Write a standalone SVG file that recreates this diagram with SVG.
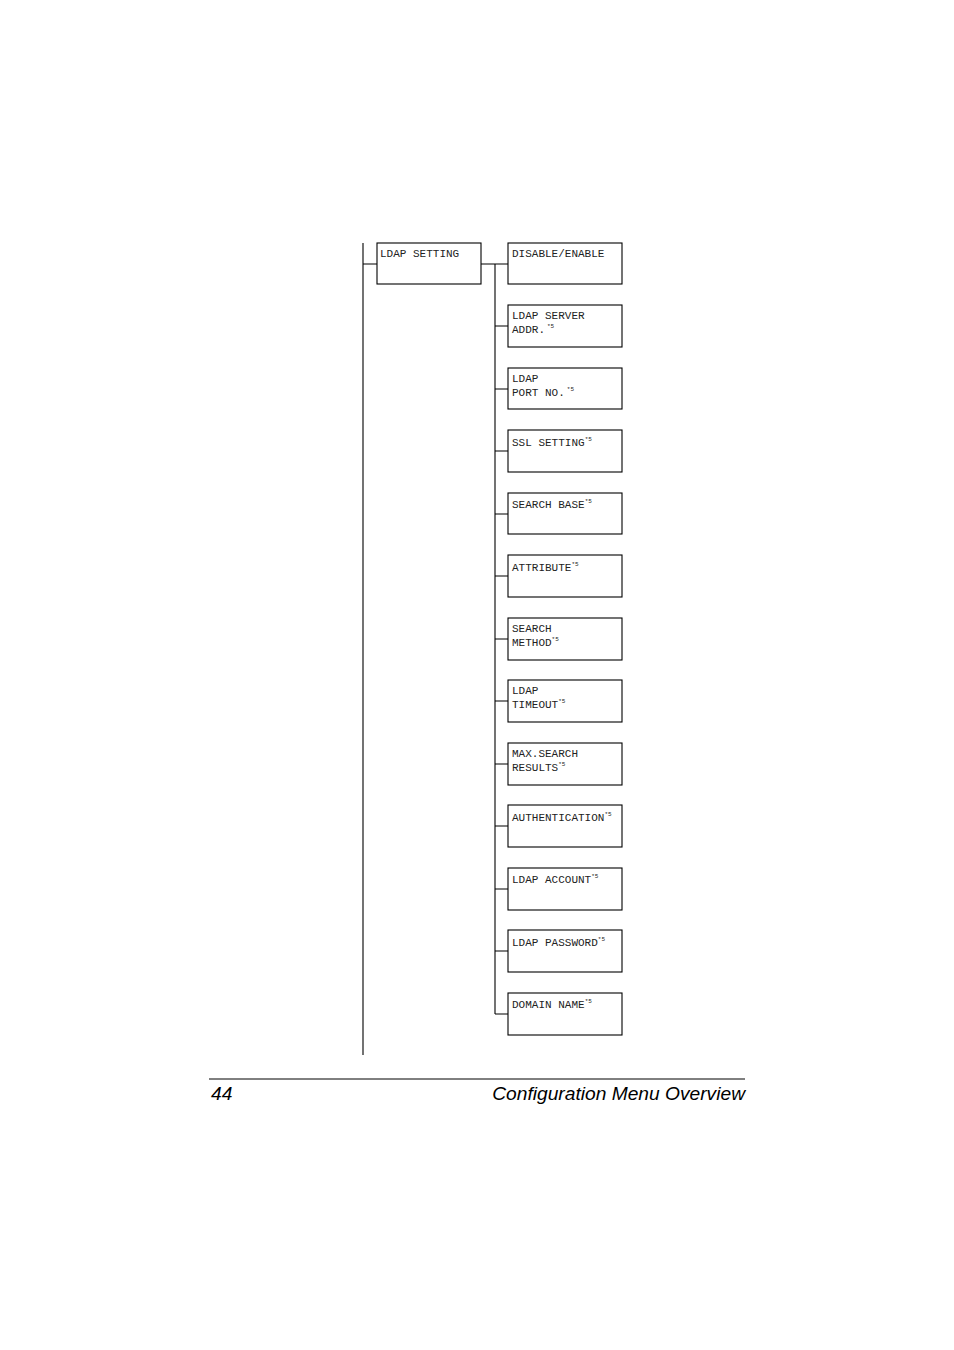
<svg xmlns="http://www.w3.org/2000/svg" width="954" height="1350" viewBox="0 0 954 1350">
<style>
.box{fill:#fff;stroke:#000;stroke-width:1.1}
.ln{stroke:#000;stroke-width:1.1;fill:none}
.t{font-family:"Liberation Mono","Courier New",monospace;font-size:11px;fill:#222}
.s{font-size:6px}
.f{font-family:"Liberation Sans",Arial,sans-serif;font-size:19.2px;font-style:italic;fill:#000}
</style>
<rect width="954" height="1350" fill="#fff"/>
<g id="connectors">
<path class="ln" d="M363,243V1055 M363,264H377 M481,264H508 M495,264V1014"/>
<path class="ln" d="M495,326H508 M495,389H508 M495,451H508 M495,514H508 M495,576H508 M495,639H508 M495,701H508 M495,764H508 M495,826H508 M495,889H508 M495,951H508 M495,1014H508"/>
</g>
<g id="ldap-setting"><rect class="box" x="377" y="243" width="104" height="41"/><text class="t" x="380" y="257">LDAP SETTING</text></g>
<g id="n1"><rect class="box" x="508" y="243" width="114" height="41"/><text class="t" x="512" y="257">DISABLE/ENABLE</text></g>
<g id="n2"><rect class="box" x="508" y="305" width="114" height="42"/><text class="t" x="512" y="319">LDAP SERVER</text><text class="t" x="512" y="333">ADDR.<tspan class="s" dx="2" dy="-5">*5</tspan></text></g>
<g id="n3"><rect class="box" x="508" y="368" width="114" height="41"/><text class="t" x="512" y="382">LDAP</text><text class="t" x="512" y="396">PORT NO.<tspan class="s" dx="2" dy="-5">*5</tspan></text></g>
<g id="n4"><rect class="box" x="508" y="430" width="114" height="42"/><text class="t" x="512" y="446">SSL SETTING<tspan class="s" dy="-5">*5</tspan></text></g>
<g id="n5"><rect class="box" x="508" y="493" width="114" height="41"/><text class="t" x="512" y="508">SEARCH BASE<tspan class="s" dy="-5">*5</tspan></text></g>
<g id="n6"><rect class="box" x="508" y="555" width="114" height="42"/><text class="t" x="512" y="571">ATTRIBUTE<tspan class="s" dy="-5">*5</tspan></text></g>
<g id="n7"><rect class="box" x="508" y="618" width="114" height="42"/><text class="t" x="512" y="632">SEARCH</text><text class="t" x="512" y="646">METHOD<tspan class="s" dy="-5">*5</tspan></text></g>
<g id="n8"><rect class="box" x="508" y="680" width="114" height="42"/><text class="t" x="512" y="694">LDAP</text><text class="t" x="512" y="708">TIMEOUT<tspan class="s" dy="-5">*5</tspan></text></g>
<g id="n9"><rect class="box" x="508" y="743" width="114" height="42"/><text class="t" x="512" y="757">MAX.SEARCH</text><text class="t" x="512" y="771">RESULTS<tspan class="s" dy="-5">*5</tspan></text></g>
<g id="n10"><rect class="box" x="508" y="805" width="114" height="42"/><text class="t" x="512" y="821">AUTHENTICATION<tspan class="s" dy="-5">*5</tspan></text></g>
<g id="n11"><rect class="box" x="508" y="868" width="114" height="42"/><text class="t" x="512" y="883">LDAP ACCOUNT<tspan class="s" dy="-5">*5</tspan></text></g>
<g id="n12"><rect class="box" x="508" y="930" width="114" height="42"/><text class="t" x="512" y="946">LDAP PASSWORD<tspan class="s" dy="-5">*5</tspan></text></g>
<g id="n13"><rect class="box" x="508" y="993" width="114" height="42"/><text class="t" x="512" y="1008">DOMAIN NAME<tspan class="s" dy="-5">*5</tspan></text></g>
<g id="footer">
<line x1="209" y1="1079" x2="745" y2="1079" stroke="#000" stroke-width="1"/>
<text class="f" x="211" y="1100">44</text>
<text class="f" x="745" y="1100" text-anchor="end">Configuration Menu Overview</text>
</g>
</svg>
